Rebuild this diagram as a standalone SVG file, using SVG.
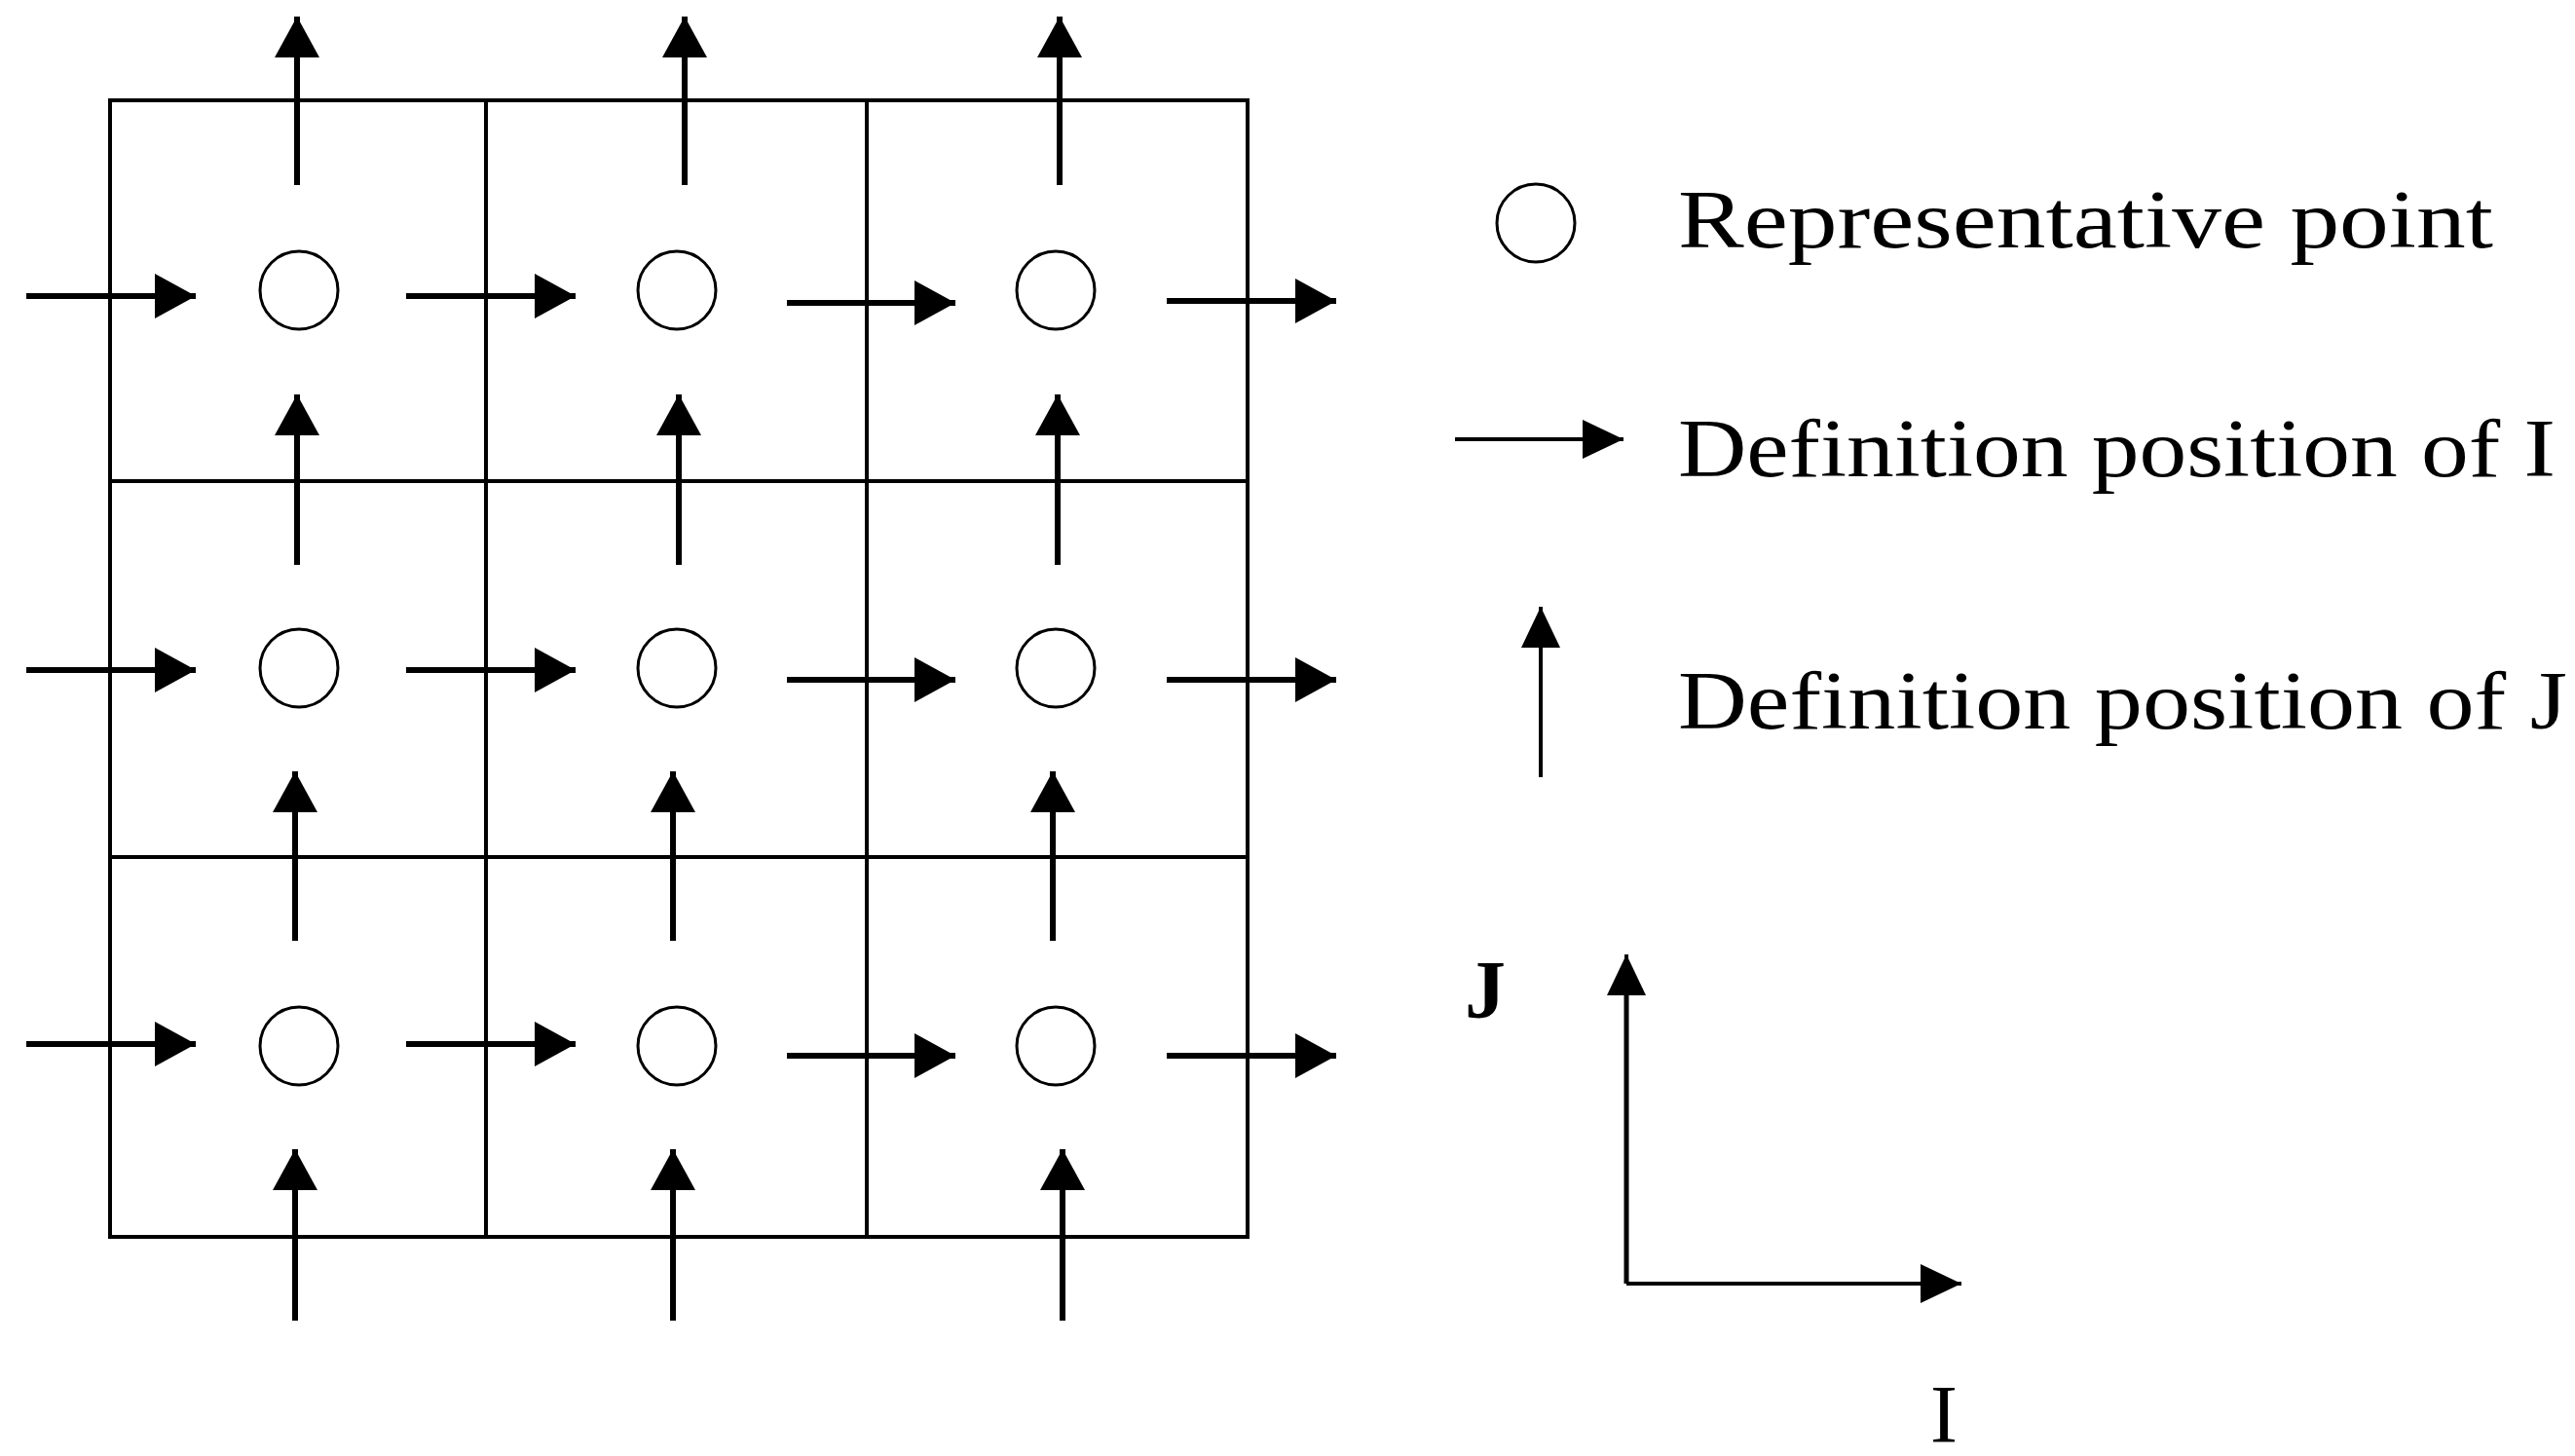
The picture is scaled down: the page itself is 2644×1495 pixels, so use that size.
<svg xmlns="http://www.w3.org/2000/svg" width="2644" height="1495" viewBox="0 0 2644 1495">
<defs>
<marker id="ah" markerUnits="userSpaceOnUse" markerWidth="44" markerHeight="46" refX="42" refY="23" orient="auto"><path d="M0,0 L42,23 L0,46 Z" fill="#000"/></marker>
<marker id="ahs" markerUnits="userSpaceOnUse" markerWidth="44" markerHeight="40" refX="42" refY="20" orient="auto"><path d="M0,0 L42,20 L0,40 Z" fill="#000"/></marker>
</defs>
<style>
.grid{fill:none;stroke:#000;stroke-width:4}
.pt{fill:#fff;stroke:#000;stroke-width:3}
.a{stroke:#000;stroke-width:6;fill:none;marker-end:url(#ah)}
.al{stroke:#000;stroke-width:4;fill:none;marker-end:url(#ahs)}
.t{font-family:"Liberation Serif",serif;font-size:84px;fill:#000}
</style>
<g id="grid">
<rect class="grid" x="113" y="103" width="1168" height="1167"/>
<line class="grid" x1="499" y1="103" x2="499" y2="1270"/>
<line class="grid" x1="890" y1="103" x2="890" y2="1270"/>
<line class="grid" x1="113" y1="494" x2="1281" y2="494"/>
<line class="grid" x1="113" y1="880" x2="1281" y2="880"/>
</g>
<g id="points">
<circle class="pt" cx="307" cy="298" r="40"/><circle class="pt" cx="695" cy="298" r="40"/><circle class="pt" cx="1084" cy="298" r="40"/>
<circle class="pt" cx="307" cy="686" r="40"/><circle class="pt" cx="695" cy="686" r="40"/><circle class="pt" cx="1084" cy="686" r="40"/>
<circle class="pt" cx="307" cy="1074" r="40"/><circle class="pt" cx="695" cy="1074" r="40"/><circle class="pt" cx="1084" cy="1074" r="40"/>
</g>
<g id="connectors">
<line class="a" x1="27" y1="304" x2="201" y2="304"/><line class="a" x1="417" y1="304" x2="591" y2="304"/><line class="a" x1="808" y1="311" x2="981" y2="311"/><line class="a" x1="1198" y1="309" x2="1372" y2="309"/>
<line class="a" x1="27" y1="688" x2="201" y2="688"/><line class="a" x1="417" y1="688" x2="591" y2="688"/><line class="a" x1="808" y1="698" x2="981" y2="698"/><line class="a" x1="1198" y1="698" x2="1372" y2="698"/>
<line class="a" x1="27" y1="1072" x2="201" y2="1072"/><line class="a" x1="417" y1="1072" x2="591" y2="1072"/><line class="a" x1="808" y1="1084" x2="981" y2="1084"/><line class="a" x1="1198" y1="1084" x2="1372" y2="1084"/>
<line class="a" x1="305" y1="190" x2="305" y2="17"/><line class="a" x1="703" y1="190" x2="703" y2="17"/><line class="a" x1="1088" y1="190" x2="1088" y2="17"/>
<line class="a" x1="305" y1="580" x2="305" y2="405"/><line class="a" x1="697" y1="580" x2="697" y2="405"/><line class="a" x1="1086" y1="580" x2="1086" y2="405"/>
<line class="a" x1="303" y1="966" x2="303" y2="792"/><line class="a" x1="691" y1="966" x2="691" y2="792"/><line class="a" x1="1081" y1="966" x2="1081" y2="792"/>
<line class="a" x1="303" y1="1356" x2="303" y2="1180"/><line class="a" x1="691" y1="1356" x2="691" y2="1180"/><line class="a" x1="1091" y1="1356" x2="1091" y2="1180"/>
</g>
<g id="legend">
<circle class="pt" cx="1577" cy="229" r="40"/>
<text class="t" x="1723" y="254" textLength="837" lengthAdjust="spacingAndGlyphs">Representative point</text>
<line class="al" x1="1494" y1="451" x2="1667" y2="451"/>
<text class="t" x="1723" y="489" textLength="901" lengthAdjust="spacingAndGlyphs">Definition position of I</text>
<line class="al" x1="1582" y1="798" x2="1582" y2="623"/>
<text class="t" x="1723" y="748" textLength="913" lengthAdjust="spacingAndGlyphs">Definition position of J</text>
</g>
<g id="axes">
<path d="M1670,1318 L1670,980" class="al"/>
<path d="M1670,1318 L2014,1318" class="al"/>
<line x1="1670" y1="1318" x2="1670" y2="1000" stroke="#000" stroke-width="5"/>
<text class="t" x="1504" y="1045" font-weight="bold" font-size="64">J</text>
<text class="t" x="1982" y="1481">I</text>
</g>
</svg>
